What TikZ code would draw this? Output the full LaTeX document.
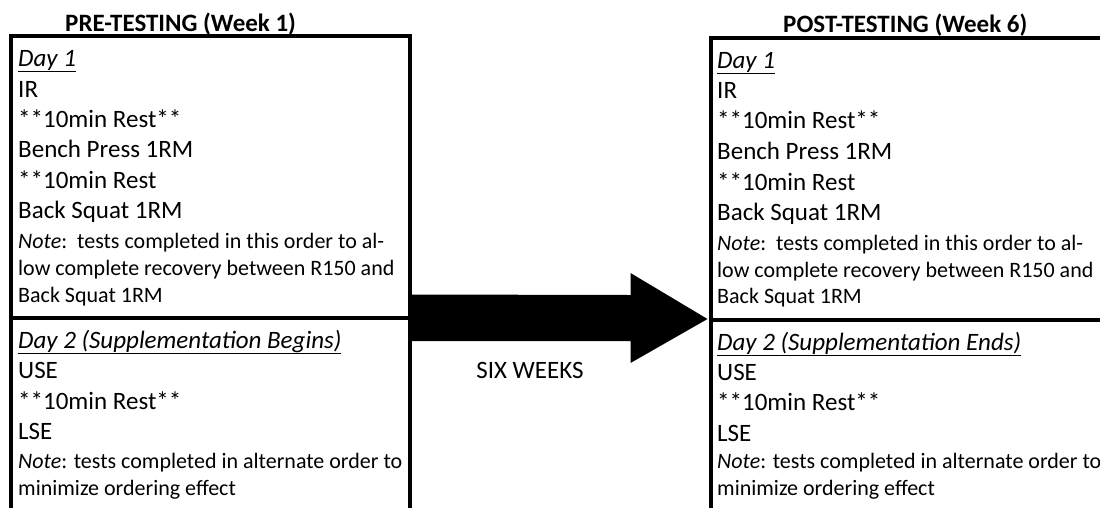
\documentclass[tikz,border=0pt]{standalone}
\usepackage{fontspec}
\setmainfont{Carlito}
\usetikzlibrary{calc}
\tikzset{
  panel/.style={draw=black, line width=4pt, inner sep=0pt, outer sep=0pt, anchor=north west},
  ln/.style={anchor=base west, inner sep=0pt, font=\fontsize{25}{30}\selectfont},
  nt/.style={anchor=base west, inner sep=0pt, font=\fontsize{22}{27}\selectfont},
  ttl/.style={anchor=base west, inner sep=0pt, font=\fontsize{25}{30}\selectfont\bfseries},
}
\begin{document}
\begin{tikzpicture}[x=1pt,y=-1pt]
\useasboundingbox (0,0) rectangle (1100,507);
% boxes
\node[panel, minimum width=399pt, minimum height=281.5pt] (pre1) at (11,36) {};
\node[panel, minimum width=399pt, minimum height=210pt] (pre2) at (11,317.5) {};
\node[panel, minimum width=420pt, minimum height=282pt] (post1) at (710.5,38) {};
\node[panel, minimum width=420pt, minimum height=210pt] (post2) at (710.5,320) {};
% titles
\node[ttl] (pretitle) at (65,31) {PRE-TESTING (Week 1)};
\node[ttl] (posttitle) at (783,32) {POST-TESTING (Week 6)};
% left top
\node[ln] (a1) at (18,66) {\underline{\textit{Day 1}}};
\node[ln] (a2) at (18,97) {IR};
\node[ln] (a3) at (18,127) {**10min Rest**};
\node[ln] (a4) at (18,157) {Bench Press 1RM};
\node[ln] (a5) at (18,188) {**10min Rest};
\node[ln] (a6) at (18,218) {Back Squat 1RM};
\node[nt] (a7) at (18,248) {\textit{Note}:\ \ tests completed in this order to al-};
\node[nt] (a8) at (18,275) {low complete recovery between R150 and};
\node[nt] (a9) at (18,302) {Back Squat 1RM};
% left bottom
\node[ln] (b1) at (18,348) {\underline{\textit{Day 2 (Supplementation Begins)}}};
\node[ln] (b2) at (18,378) {USE};
\node[ln] (b3) at (18,409) {**10min Rest**};
\node[ln] (b4) at (18,439) {LSE};
\node[nt] (b5) at (18,468) {\textit{Note}: tests completed in alternate order to};
\node[nt] (b6) at (18,495) {minimize ordering effect};
% right top
\node[ln] (c1) at (717,68) {\underline{\textit{Day 1}}};
\node[ln] (c2) at (717,98) {IR};
\node[ln] (c3) at (717,128) {**10min Rest**};
\node[ln] (c4) at (717,159) {Bench Press 1RM};
\node[ln] (c5) at (717,190) {**10min Rest};
\node[ln] (c6) at (717,220) {Back Squat 1RM};
\node[nt] (c7) at (717,250) {\textit{Note}:\ \ tests completed in this order to al-};
\node[nt] (c8) at (717,277) {low complete recovery between R150 and};
\node[nt] (c9) at (717,303) {Back Squat 1RM};
% right bottom
\node[ln] (d1) at (717,350) {\underline{\textit{Day 2 (Supplementation Ends)}}};
\node[ln] (d2) at (717,380) {USE};
\node[ln] (d3) at (717,410) {**10min Rest**};
\node[ln] (d4) at (717,441) {LSE};
\node[nt] (d5) at (717,468) {\textit{Note}: tests completed in alternate order to};
\node[nt] (d6) at (717,495) {minimize ordering effect};
% block arrow
\coordinate (As) at ($(pre1.south east)+(2,0)$);
\coordinate (At) at ($(post1.south west)+(-3,-1)$);
\fill[black] ($(As)+(0,-23)$) -- ($(At)+(-77,-24)$) -- ($(At)+(-77,-46)$) -- (At)
  -- ($(At)+(-77,44)$) -- ($(At)+(-77,22)$) -- ($(As)+(0,23.5)$) -- cycle;
\node[ln, anchor=base] (six) at (530,378) {SIX WEEKS};
\end{tikzpicture}
\end{document}
